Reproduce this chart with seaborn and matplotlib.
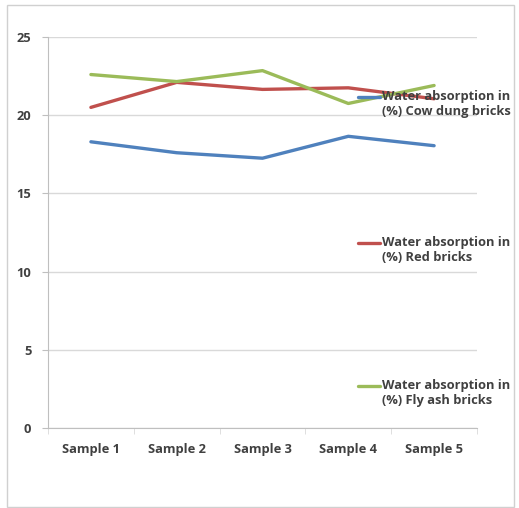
import matplotlib
matplotlib.use("Agg")
import matplotlib.pyplot as plt
from matplotlib.lines import Line2D
from matplotlib.patches import Rectangle
from matplotlib.legend_handler import HandlerLine2D
import seaborn as sns
import pandas as pd

samples = ["Sample 1", "Sample 2", "Sample 3", "Sample 4", "Sample 5"]
cow_dung = [18.3, 17.6, 17.25, 18.65, 18.05]
red_bricks = [20.5, 22.1, 21.65, 21.75, 21.05]
fly_ash = [22.6, 22.15, 22.85, 20.75, 21.9]

series_names = [
    "Water absorption in\n(%) Cow dung bricks",
    "Water absorption in\n(%) Red bricks",
    "Water absorption in\n(%) Fly ash bricks",
]
colors = ["#4F81BD", "#C0504D", "#9BBB59"]

df = pd.DataFrame({
    "sample": samples * 3,
    "value": cow_dung + red_bricks + fly_ash,
    "series": [series_names[0]] * 5 + [series_names[1]] * 5 + [series_names[2]] * 5,
})

FS = 9.3
TEXT_COLOR = "#404040"


class FirstLineHandler(HandlerLine2D):
    """Legend key drawn level with the first line of a two-line label."""

    def create_artists(self, legend, orig_handle, xdescent, ydescent,
                       width, height, fontsize, trans):
        artists = super().create_artists(legend, orig_handle, xdescent, ydescent,
                                         width, height, fontsize, trans)
        for a in artists:
            a.set_ydata([y + 0.62 * fontsize for y in a.get_ydata()])
        return artists


sns.set_style("white")
plt.rcParams["font.family"] = ["Open Sans", "DejaVu Sans"]

fig = plt.figure(figsize=(5.19, 5.08), dpi=100)
ax = fig.add_axes([48 / 519, 1 - 428 / 508, (477 - 48) / 519, (428 - 37) / 508])

sns.lineplot(data=df, x="sample", y="value", hue="series", palette=colors,
             linewidth=2.4, ax=ax, legend=False, sort=False)

ax.set_xlim(-0.5, 4.5)
ax.set_ylim(0, 25)
ax.set_yticks([0, 5, 10, 15, 20, 25])
ax.set_xlabel("")
ax.set_ylabel("")
ax.grid(axis="y", color="#D9D9D9", linewidth=1)
ax.set_axisbelow(True)
for side in ["top", "right"]:
    ax.spines[side].set_visible(False)
ax.spines["left"].set_color("#BFBFBF")
ax.spines["bottom"].set_color("#BFBFBF")
ax.tick_params(axis="y", length=4, color="#BFBFBF", labelsize=FS,
               labelcolor=TEXT_COLOR, pad=8, left=True)
ax.tick_params(axis="x", length=0, labelsize=FS, labelcolor=TEXT_COLOR, pad=11)
for lbl in ax.get_xticklabels() + ax.get_yticklabels():
    lbl.set_fontweight("bold")
# category separator ticks on the x axis
ax.set_xticks([-0.5, 0.5, 1.5, 2.5, 3.5, 4.5], minor=True)
ax.tick_params(axis="x", which="minor", length=4, color="#D9D9D9", bottom=True)

# legend entries spread down the right side
legend_y = [93, 239, 382]
for name, col, ypix in zip(series_names, colors, legend_y):
    handle = Line2D([], [], color=col, linewidth=2.4)
    fig.legend([handle], [name], loc="upper left",
               bbox_to_anchor=(352 / 519, 1 - (ypix - 9) / 508),
               frameon=False, handlelength=1.7, handletextpad=0.15,
               borderpad=0, prop={"size": FS, "weight": "bold"},
               labelcolor=TEXT_COLOR,
               handler_map={Line2D: FirstLineHandler()})

fig.patches.append(Rectangle((7 / 519, 1 - 507 / 508), 507 / 519, 502 / 508,
                             transform=fig.transFigure, fill=False,
                             edgecolor="#D0D0D0", linewidth=1))

fig.savefig("out.png", dpi=100)
